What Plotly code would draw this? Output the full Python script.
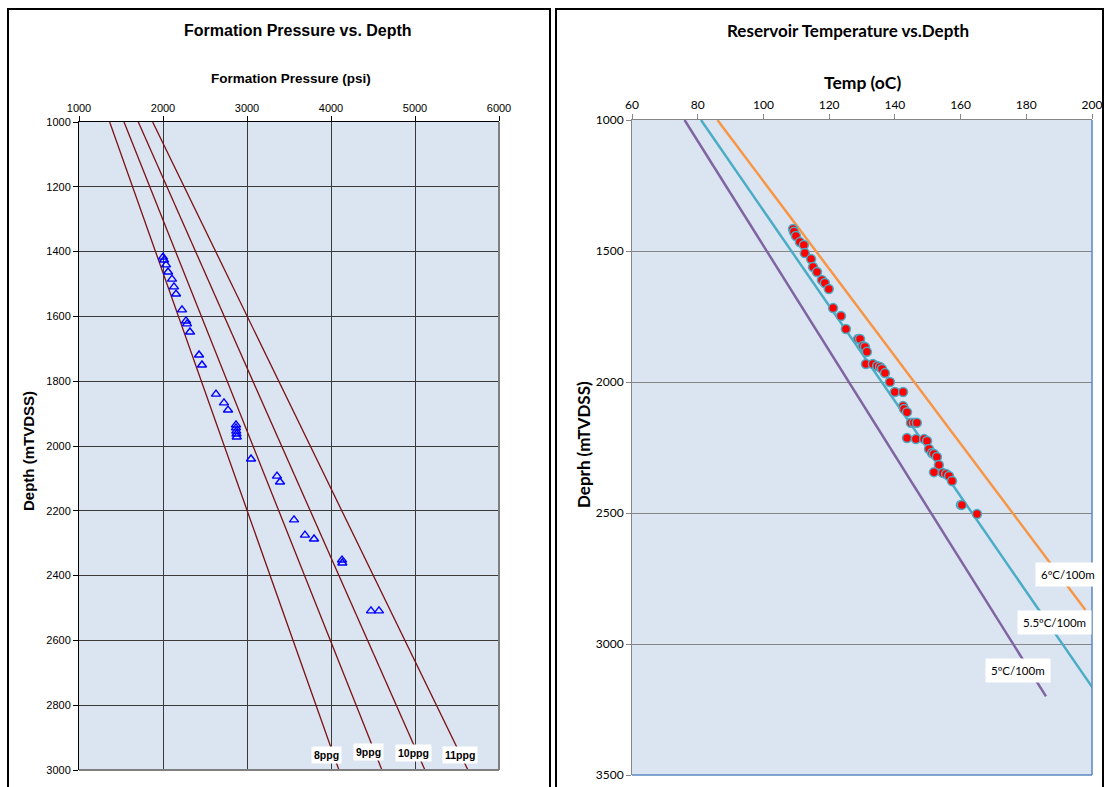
import plotly.graph_objects as go

W, H = 1107, 787

# ---------------- Data: left chart (Formation pressure vs depth) ----------------
press_psi = [2000, 2012, 2036, 2060, 2107, 2131, 2155, 2226, 2274, 2286, 2321, 2429, 2464,
             2631, 2726, 2774, 2869, 2869, 2872, 2875, 2878, 3048, 3357, 3393, 3560, 3690,
             3798, 4131, 4135, 4476, 4571]
press_depth = [1417, 1426, 1441, 1463, 1485, 1509, 1531, 1580, 1614, 1623, 1648, 1719, 1750,
               1840, 1867, 1889, 1935, 1944, 1954, 1963, 1972, 2040, 2093, 2111, 2228, 2275,
               2287, 2352, 2361, 2509, 2509]

ppg_labels = ["8ppg", "9ppg", "10ppg", "11ppg"]
ppg_depth = [1000, 3100]
ppg_psi = {
    "8ppg": [1365, 4231],
    "9ppg": [1536, 4760],
    "10ppg": [1706, 5289],
    "11ppg": [1877, 5818],
}

# ---------------- Data: right chart (Temperature vs depth) ----------------
temp_c = [109.0, 109.3, 109.9, 111.1, 112.3, 112.6, 114.5, 115.1, 116.3, 117.8, 118.7, 119.9,
          121.2, 123.6, 125.1, 128.8, 129.4, 130.3, 130.9, 131.5, 131.2, 133.3, 134.6, 135.5,
          136.1, 137.0, 138.5, 140.0, 142.5, 142.5, 142.8, 143.7, 144.9, 145.8, 146.7, 143.7,
          146.4, 148.9, 149.8, 150.4, 151.3, 151.9, 152.8, 153.4, 151.9, 154.6, 155.6, 156.5,
          157.4, 160.1, 160.4, 165.0]
temp_depth = [1416, 1427, 1443, 1466, 1477, 1508, 1531, 1561, 1580, 1611, 1622, 1645,
              1718, 1748, 1798, 1836, 1836, 1863, 1866, 1885, 1931, 1931, 1939, 1943,
              1950, 1966, 2000, 2038, 2038, 2092, 2103, 2115, 2156, 2156, 2156, 2214,
              2218, 2218, 2225, 2256, 2271, 2275, 2286, 2317, 2344, 2347, 2351, 2359,
              2378, 2469, 2469, 2504]

grad_names = ["6\u00baC/100m", "5.5\u00baC/100m", "5\u00baC/100m"]
grad_depth = {
    "6\u00baC/100m": [1000, 2870],
    "5.5\u00baC/100m": [1000, 3200],
    "5\u00baC/100m": [1000, 3200],
}
grad_temp = {
    "6\u00baC/100m": [86, 198],
    "5.5\u00baC/100m": [81, 202],
    "5\u00baC/100m": [76, 186],
}
grad_colors = {
    "6\u00baC/100m": "#f79646",
    "5.5\u00baC/100m": "#4bacc6",
    "5\u00baC/100m": "#8064a2",
}

left_xticks = [1000, 2000, 3000, 4000, 5000, 6000]
left_yticks = [1000, 1200, 1400, 1600, 1800, 2000, 2200, 2400, 2600, 2800, 3000]
right_xticks = [60, 80, 100, 120, 140, 160, 180, 200]
right_yticks = [1000, 1500, 2000, 2500, 3000, 3500]

ARIAL = "Liberation Sans, Arial, sans-serif"
CALIBRI = "Lato, Carlito, Calibri, sans-serif"

def px(x):
    return x / W

def py(y):
    return 1 - y / H

fig = go.Figure()

# Left chart: gradient lines
for name in ppg_labels:
    fig.add_trace(go.Scatter(x=ppg_psi[name], y=ppg_depth, mode="lines",
                             line=dict(color="#7b1113", width=1.3),
                             xaxis="x", yaxis="y", showlegend=False, hoverinfo="skip"))
fig.add_trace(go.Scatter(x=press_psi, y=press_depth, mode="markers",
                         marker=dict(symbol="triangle-up-open", size=8, color="#0000ff",
                                     line=dict(width=1.4, color="#0000ff")),
                         xaxis="x", yaxis="y", showlegend=False))

# Right chart: gradient lines
for name in grad_names:
    fig.add_trace(go.Scatter(x=grad_temp[name], y=grad_depth[name], mode="lines",
                             line=dict(color=grad_colors[name], width=2.5),
                             xaxis="x2", yaxis="y2", showlegend=False, hoverinfo="skip"))
fig.add_trace(go.Scatter(x=temp_c, y=temp_depth, mode="markers",
                         marker=dict(symbol="circle", size=9, color="#ff0000",
                                     line=dict(width=1.5, color="#4bacc6")),
                         xaxis="x2", yaxis="y2", showlegend=False))

fig.update_layout(
    width=W, height=H,
    margin=dict(l=0, r=0, t=0, b=0),
    paper_bgcolor="white",
    plot_bgcolor="#dbe5f1",
    showlegend=False,
    xaxis=dict(domain=[px(79), px(499)], range=[1000, 6000], side="top", anchor="y",
               tickvals=left_xticks, showgrid=True, gridcolor="#3a3a3a", gridwidth=1,
               showline=True, linecolor="#000000", linewidth=1, ticks="outside",
               ticklen=5, tickcolor="#000000", zeroline=False, automargin=False,
               tickfont=dict(family=ARIAL, size=11, color="#000")),
    yaxis=dict(domain=[py(770), py(122)], range=[3000, 1000], anchor="x",
               tickvals=left_yticks, showgrid=True, gridcolor="#3a3a3a", gridwidth=1,
               showline=True, linecolor="#000000", linewidth=1, ticks="outside",
               ticklen=5, tickcolor="#000000", zeroline=False, automargin=False,
               tickfont=dict(family=ARIAL, size=11, color="#000")),
    xaxis2=dict(domain=[px(632), px(1092)], range=[60, 200], side="top", anchor="y2",
                tickvals=right_xticks, showgrid=False,
                showline=True, linecolor="#868686", linewidth=1, ticks="outside",
                ticklen=5, tickcolor="#868686", zeroline=False, automargin=False,
                tickfont=dict(family=CALIBRI, size=12, color="#000")),
    yaxis2=dict(domain=[py(775), py(120)], range=[3500, 1000], anchor="x2",
                tickvals=right_yticks, showgrid=True, gridcolor="#868686", gridwidth=1,
                showline=True, linecolor="#868686", linewidth=1, ticks="outside",
                ticklen=5, tickcolor="#868686", zeroline=False, automargin=False,
                tickfont=dict(family=CALIBRI, size=12, color="#000")),
)

shapes = [
    # panel frames
    dict(type="rect", xref="paper", yref="paper", x0=px(8), x1=px(550), y0=py(800), y1=py(9),
         line=dict(color="#000", width=2), fillcolor="rgba(0,0,0,0)", layer="above"),
    dict(type="rect", xref="paper", yref="paper", x0=px(556), x1=px(1103), y0=py(800), y1=py(9),
         line=dict(color="#000", width=2), fillcolor="rgba(0,0,0,0)", layer="above"),
    # left plot right/bottom edges (gray)
    dict(type="line", xref="x domain", yref="y domain", x0=1, x1=1, y0=0, y1=1,
         line=dict(color="#7f7f7f", width=2), layer="above"),
    dict(type="line", xref="x domain", yref="y domain", x0=0, x1=1, y0=0, y1=0,
         line=dict(color="#7f7f7f", width=2), layer="above"),
    # right plot right/bottom edges (blue)
    dict(type="line", xref="x2 domain", yref="y2 domain", x0=1, x1=1, y0=0, y1=1,
         line=dict(color="#5a86c0", width=1.5), layer="above"),
    dict(type="line", xref="x2 domain", yref="y2 domain", x0=0, x1=1, y0=0, y1=0,
         line=dict(color="#5a86c0", width=1.5), layer="above"),
]
fig.update_layout(shapes=shapes)

ann = []
def text(x, y, s, size, family, bold=True, angle=0, bg=None):
    t = f"<b>{s}</b>" if bold else s
    d = dict(x=px(x), y=py(y), xref="paper", yref="paper", text=t, showarrow=False,
             xanchor="center", yanchor="middle", textangle=angle,
             font=dict(family=family, size=size, color="#000"))
    if bg:
        d.update(bgcolor=bg, borderpad=2)
    ann.append(d)

text(298, 31, "Formation Pressure vs. Depth", 16, ARIAL)
text(291, 79, "Formation Pressure (psi)", 13.5, ARIAL)
text(28, 451, "Depth (mTVDSS)", 15, ARIAL, angle=-90)

text(848, 31, "Reservoir Temperature vs.Depth", 17, CALIBRI)
text(862, 82, "Temp (oC)", 17.5, CALIBRI)
text(583, 445, "Deprh (mTVDSS)", 17, CALIBRI, angle=-90)

ppg_pos = {"8ppg": (326, 755), "9ppg": (368, 752), "10ppg": (413, 753), "11ppg": (460, 755)}
for name in ppg_labels:
    x, y = ppg_pos[name]
    text(x, y, name, 10.5, ARIAL, bg="white")

grad_pos = {"6\u00baC/100m": (1068, 574), "5.5\u00baC/100m": (1054, 622), "5\u00baC/100m": (1018, 670)}
for name in grad_names:
    x, y = grad_pos[name]
    d = dict(x=px(x), y=py(y), xref="paper", yref="paper", text=name, showarrow=False,
             xanchor="center", yanchor="middle",
             font=dict(family=CALIBRI, size=11.5, color="#000"),
             bgcolor="white", borderpad=5)
    ann.append(d)

fig.update_layout(annotations=ann)

fig.write_html("out.html")
